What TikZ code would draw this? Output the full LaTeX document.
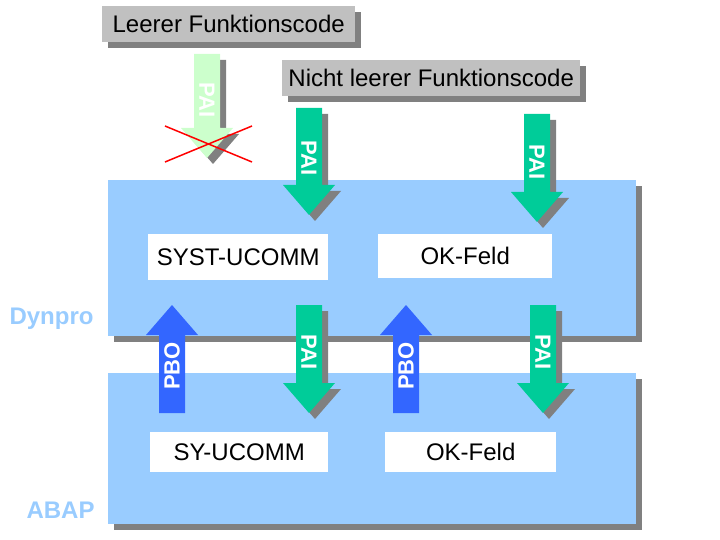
\documentclass[tikz,border=0pt]{standalone}
\usepackage{fontspec}
\setmainfont{Liberation Sans}
\definecolor{shd}{HTML}{808080}
\definecolor{lbl}{HTML}{C0C0C0}
\definecolor{bx}{HTML}{99CCFF}
\definecolor{grn}{HTML}{00CC99}
\definecolor{lgrn}{HTML}{CCFFCC}
\definecolor{blu}{HTML}{3366FF}
\newcommand\myDown[4]{% x, top, tip, color
  \fill[shd] (#1-13+6,#2+6) -- (#1+13+6,#2+6) -- (#1+13+6,#3-30+6) -- (#1+26+6,#3-30+6) -- (#1+6,#3+6) -- (#1-26+6,#3-30+6) -- (#1-13+6,#3-30+6) -- cycle;
  \fill[#4] (#1-13,#2) -- (#1+13,#2) -- (#1+13,#3-30) -- (#1+26,#3-30) -- (#1,#3) -- (#1-26,#3-30) -- (#1-13,#3-30) -- cycle;}
\newcommand\myUp[4]{% x, bottom, tip, color
  \fill[#4] (#1-13,#2) -- (#1+13,#2) -- (#1+13,#3+30) -- (#1+26,#3+30) -- (#1,#3) -- (#1-26,#3+30) -- (#1-13,#3+30) -- cycle;}
\begin{document}
\begin{tikzpicture}[x=1pt,y=-1pt,
  box/.style={fill=bx},
  sh/.style={fill=shd},
  wl/.style={fill=white,inner sep=0pt,font=\fontsize{24}{24}\selectfont},
  gl/.style={fill=lbl,inner sep=0pt,font=\fontsize{24}{24}\selectfont},
  arrtxt/.style={text=white,font=\bfseries\fontsize{22}{22}\selectfont,inner sep=0pt},
  side/.style={text=bx,font=\bfseries\fontsize{24}{24}\selectfont,anchor=west}]
\useasboundingbox (0,0) rectangle (720,540);
% boxes
\fill[sh] (114,186) rectangle (642,342);
\fill[box] (108,180) rectangle (636,336);
\fill[sh] (114,379) rectangle (642,530);
\fill[box] (108,373) rectangle (636,524);
% top labels
\fill[sh] (108,12) rectangle (361,48);
\node[gl,minimum width=253,minimum height=36,anchor=north west] (l1) at (102,6) {Leerer Funktionscode};
\fill[sh] (288,66) rectangle (586,102);
\node[gl,minimum width=298,minimum height=36,anchor=north west] (l2) at (282,60) {Nicht leerer Funktionscode};
% white labels
\node[wl,minimum width=180,minimum height=46,anchor=north west] (s1) at (148,234) {SYST-UCOMM};
\node[wl,minimum width=174,minimum height=44,anchor=north west] (o1) at (378,234) {OK-Feld};
\node[wl,minimum width=178,minimum height=40,anchor=north west] (s2) at (150,432) {SY-UCOMM};
\node[wl,minimum width=171,minimum height=40,anchor=north west] (o2) at (385,432) {OK-Feld};
% arrows
\myDown{207}{54}{158}{lgrn}
\node[arrtxt,rotate=-90] (p0) at (207,100) {PAI};
\draw[red,line width=1.5] (165,126) -- (252,162) (165,162) -- (252,126);
\myDown{309}{108}{215}{grn}
\node[arrtxt,rotate=-90] (p1) at (309,158) {PAI};
\myDown{537}{114}{222}{grn}
\node[arrtxt,rotate=-90] (p2) at (537,162) {PAI};
\myDown{309}{305}{413}{grn}
\node[arrtxt,rotate=-90] (p3) at (309,352) {PAI};
\myDown{543}{305}{413}{grn}
\node[arrtxt,rotate=-90] (p4) at (543,352) {PAI};
\myUp{172}{413}{305}{blu}
\node[arrtxt,rotate=90] (b1) at (172,366) {PBO};
\myUp{406}{413}{305}{blu}
\node[arrtxt,rotate=90] (b2) at (406,366) {PBO};
\node[side] (d) at (6,319) {Dynpro};
\node[side] (a) at (23,510) {ABAP};
\end{tikzpicture}
\end{document}
